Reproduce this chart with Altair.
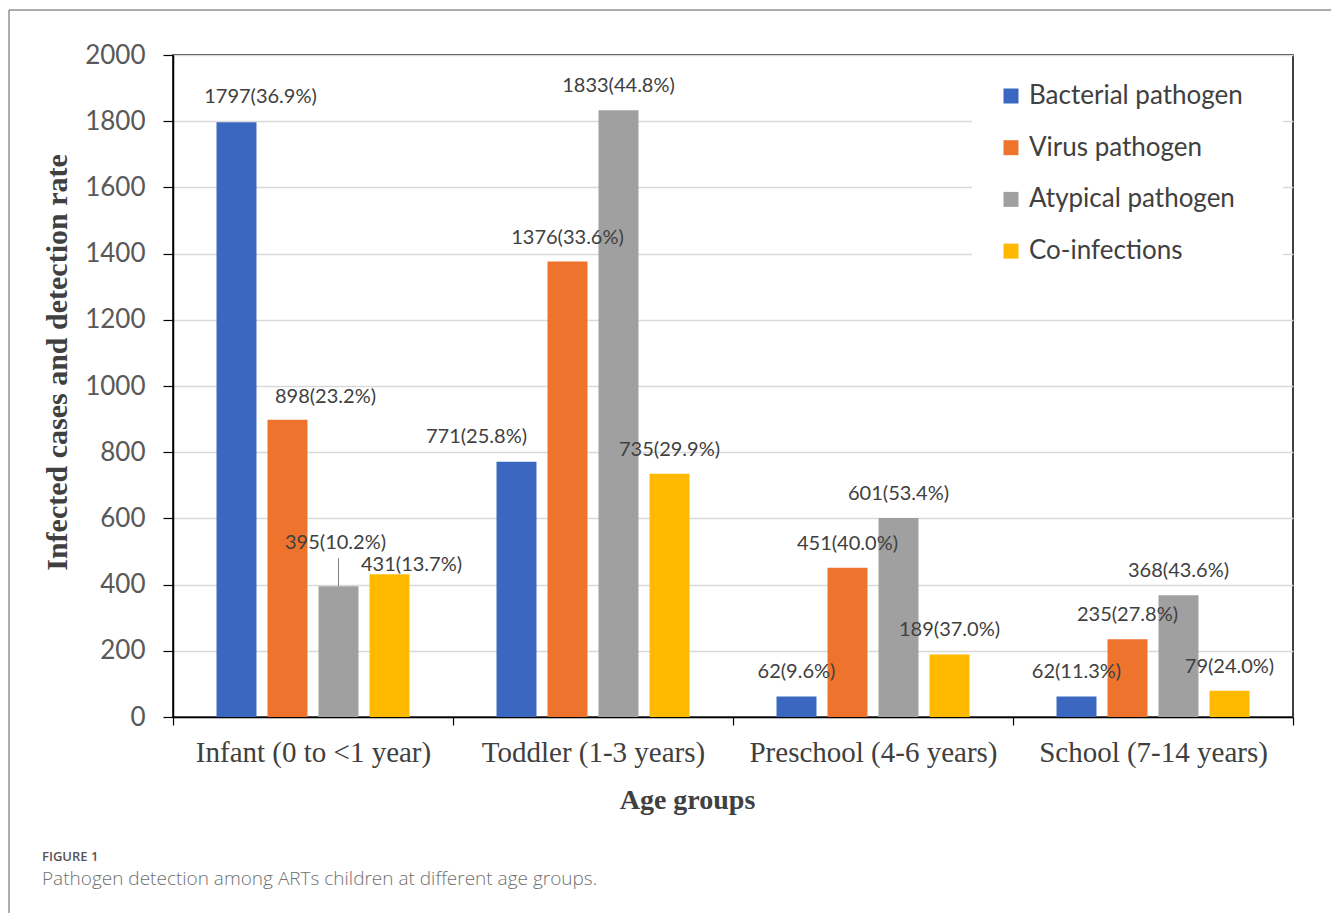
import altair as alt
import pandas as pd

# ---------------- data ----------------
groups = ["Infant (0 to <1 year)", "Toddler (1-3 years)",
          "Preschool (4-6 years)", "School (7-14 years)"]
pathogens = ["Bacterial pathogen", "Virus pathogen", "Atypical pathogen", "Co-infections"]

bacterial_cases = [1797, 771, 62, 62]
virus_cases = [898, 1376, 451, 235]
atypical_cases = [395, 1833, 601, 368]
coinfection_cases = [431, 735, 189, 79]

bacterial_rate = [36.9, 25.8, 9.6, 11.3]
virus_rate = [23.2, 33.6, 40.0, 27.8]
atypical_rate = [10.2, 44.8, 53.4, 43.6]
coinfection_rate = [13.7, 29.9, 37.0, 24.0]

y_ticks = [0, 200, 400, 600, 800, 1000, 1200, 1400, 1600, 1800, 2000]
colors = ["#3A68C0", "#EE742D", "#A0A0A0", "#FFBA00"]

cases = [bacterial_cases, virus_cases, atypical_cases, coinfection_cases]
rates = [bacterial_rate, virus_rate, atypical_rate, coinfection_rate]

rows = []
for pi, p in enumerate(pathogens):
    for gi, g in enumerate(groups):
        v = cases[pi][gi]
        r = rates[pi][gi]
        rows.append({"group": g, "pathogen": p, "value": v,
                     "label": f"{v}({r:.1f}%)", "key": f"{g}|{p}"})
df = pd.DataFrame(rows)

# label nudges (pixel offsets of manually placed labels in the original)
nudges = {
    f"{groups[0]}|{pathogens[0]}": (24, -25),
    f"{groups[0]}|{pathogens[1]}": (38, -23),
    f"{groups[0]}|{pathogens[2]}": (-3, -43),
    f"{groups[0]}|{pathogens[3]}": (22, -9),
    f"{groups[1]}|{pathogens[0]}": (-40, -25),
}

LABEL_FONT = "Lato"
SERIF = "Liberation Serif"

x_enc = alt.X("group:N", sort=groups, title="Age groups",
              scale=alt.Scale(paddingInner=0, paddingOuter=0),
              axis=alt.Axis(labelAngle=0, tickBand="extent", tickSize=8,
                            tickColor="#000000", tickWidth=1.2,
                            domainColor="#000000", domainWidth=1.5, grid=False,
                            labelFont=SERIF, labelFontSize=29, labelColor="#404040",
                            labelPadding=13, labelLimit=0,
                            titleFont=SERIF, titleFontSize=28, titleFontWeight="bold",
                            titleColor="#404040", titleX=514, titleY=91,
                            titleBaseline="alphabetic", titleAlign="center"))
xo_enc = alt.XOffset("pathogen:N", sort=pathogens,
                     scale=alt.Scale(paddingInner=0.216, paddingOuter=0.853))
y_enc = alt.Y("value:Q", title="Infected cases and detection rate",
              scale=alt.Scale(domain=[0, 2000], nice=False),
              axis=alt.Axis(values=y_ticks, format="d", tickSize=10, tickColor="#000000",
                            tickWidth=1.2, domainColor="#000000", domainWidth=1.5,
                            gridColor="#D9D9D9", gridWidth=1.3,
                            labelFont=LABEL_FONT, labelFontSize=26, labelColor="#595959",
                            labelPadding=18,
                            titleFont=SERIF, titleFontSize=30, titleFontWeight="bold",
                            titleColor="#404040", titleX=-116, titleY=307,
                            titleAngle=270, titleBaseline="middle", titleAlign="center"))

base = alt.Chart(df).encode(x=x_enc, xOffset=xo_enc, y=y_enc)

bars = base.mark_bar().encode(
    color=alt.Color("pathogen:N", sort=pathogens,
                    scale=alt.Scale(domain=pathogens, range=colors),
                    legend=alt.Legend(title=None, orient="none", legendX=825, legendY=28,
                                      symbolType="square", symbolSize=225,
                                      symbolStrokeWidth=0, labelFont=LABEL_FONT,
                                      labelFontSize=26, labelColor="#404040",
                                      labelLimit=0,
                                      rowPadding=25.7, labelOffset=5, padding=0))
)

nudged_keys = list(nudges.keys())
default_expr = "indexof([" + ",".join(f"'{k}'" for k in nudged_keys) + "], datum.key) < 0"

LBL_SIZE = 20
text_layers = [
    base.mark_text(font=LABEL_FONT, fontSize=LBL_SIZE, color="#404040", baseline="middle",
                   dy=-24).encode(text="label:N").transform_filter(default_expr)
]
for k, (dx, dy) in nudges.items():
    text_layers.append(
        base.mark_text(font=LABEL_FONT, fontSize=LBL_SIZE, color="#404040", baseline="middle",
                       dx=dx, dy=dy).encode(text="label:N")
        .transform_filter(f"datum.key == '{k}'")
    )

leader = base.mark_rule(color="#808080", strokeWidth=1, y2Offset=-28).encode(
    y2="value:Q"
).transform_filter(f"datum.key == '{groups[0]}|{pathogens[2]}'")

one = pd.DataFrame({"a": [0]})

legend_bg = alt.Chart(one).mark_rect(color="white").encode(
    x=alt.value(799), x2=alt.value(1110), y=alt.value(10), y2=alt.value(225))

frame_top = alt.Chart(one).mark_rule(color="#5A5A5A", strokeWidth=1).encode(
    x=alt.value(-164), x2=alt.value(1158), y=alt.value(-45))
frame_left = alt.Chart(one).mark_rule(color="#5A5A5A", strokeWidth=1).encode(
    x=alt.value(-164), y=alt.value(-45), y2=alt.value(858))

cap1 = alt.Chart(one).mark_text(font="Open Sans", fontSize=13, fontWeight=600,
                                color="#555555", align="left", baseline="alphabetic").encode(
    x=alt.value(-131), y=alt.value(806), text=alt.value("FIGURE 1"))
cap2 = alt.Chart(one).mark_text(font="Open Sans", fontSize=19, fontWeight=300,
                                color="#707070", align="left", baseline="alphabetic").encode(
    x=alt.value(-131), y=alt.value(830),
    text=alt.value("Pathogen detection among ARTs children at different age groups."))

chart = alt.layer(
    bars, legend_bg, leader, *text_layers, frame_top, frame_left, cap1, cap2
).properties(
    width=1120, height=662,
    autosize=alt.AutoSizeParams(type="none"),
    padding={"left": 173, "top": 55, "right": 38, "bottom": 196},
    background="white",
).configure_view(stroke="#000000", strokeWidth=1.5)

chart.save("out.html", embed_options={"renderer": "svg", "actions": False})
